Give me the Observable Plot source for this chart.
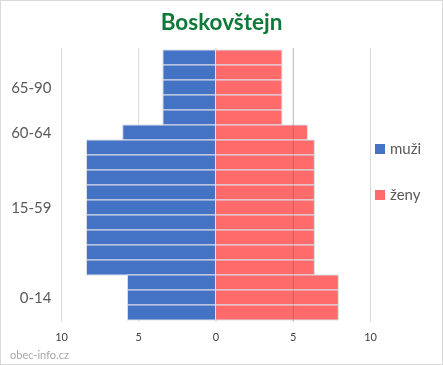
<!DOCTYPE html>
<html><head><meta charset="utf-8">
<script src="https://cdn.jsdelivr.net/npm/d3@7"></script>
<script src="https://cdn.jsdelivr.net/npm/@observablehq/plot@0.6"></script>
<style>
body{margin:0;background:#fff;}
#wrap{position:relative;width:443px;height:365px;background:#fff;font-family:Lato,"Open Sans",sans-serif;overflow:hidden}
#wrap svg{position:absolute;left:0;top:0}
#frame{position:absolute;left:0;top:0;width:443px;height:365px;border:1px solid #d9d9d9;box-sizing:border-box;pointer-events:none}
#title{position:absolute;left:0;width:443px;top:8px;text-align:center;font-weight:bold;font-size:22.5px;color:#0e7a3a;}
.leg{position:absolute;left:375px;font-size:15px;color:#595959;line-height:18px;white-space:nowrap}
.leg span{display:inline-block;width:10px;height:10px;margin-right:5px;vertical-align:-0px}
#cap{position:absolute;left:10px;top:348px;font-size:11px;color:#a6a6a6}
</style></head>
<body>
<div id="wrap">
  <div id="title">Boskovštejn</div>
  <div class="leg" style="top:139px"><span style="background:#4472C4"></span>muži</div>
  <div class="leg" style="top:185px"><span style="background:#FF6B6B"></span>ženy</div>
  <div id="cap">obec-info.cz</div>
  <div id="frame"></div>
</div>
<script>
// one entry per bar row, top to bottom
const rowGroup = ["65-90","65-90","65-90","65-90","65-90","60-64",
  "15-59","15-59","15-59","15-59","15-59","15-59","15-59","15-59","15-59",
  "0-14","0-14","0-14"];
const men   = [3.4,3.4,3.4,3.4,3.4, 6.0, 8.35,8.35,8.35,8.35,8.35,8.35,8.35,8.35,8.35, 5.7,5.7,5.7];
const women = [4.3,4.3,4.3,4.3,4.3, 5.95, 6.4,6.4,6.4,6.4,6.4,6.4,6.4,6.4,6.4, 7.95,7.95,7.95];
const groupLabels = ["65-90","60-64","15-59","0-14"];
const groupLabelRow = [2, 5, 10, 16];
const xTicks = [-10, -5, 0, 5, 10];

const rows = rowGroup.map((g, i) => ({i, g, men: men[i], women: women[i]}));
const labelOf = new Map(groupLabelRow.map((r, k) => [r, groupLabels[k]]));

const chart = Plot.plot({
  width: 443, height: 365,
  marginLeft: 61, marginRight: 73, marginTop: 48, marginBottom: 43,
  style: {fontFamily: "Lato, 'Open Sans', sans-serif", background: "transparent"},
  x: {domain: [-10, 10], ticks: xTicks},
  y: {type: "band", domain: d3.range(rows.length), padding: 0},
  marks: [
    Plot.ruleX(xTicks, {stroke: "#d9d9d9", strokeWidth: 1}),
    Plot.barX(rows, {y: "i", x1: 0, x2: d => -d.men, fill: "#4472C4", stroke: "#dde0ea", strokeWidth: 1}),
    Plot.barX(rows, {y: "i", x1: 0, x2: "women", fill: "#FF6B6B", stroke: "#dde0ea", strokeWidth: 1}),
    Plot.ruleX([5], {stroke: "#d9d9d9", strokeWidth: 1, mixBlendMode: "multiply"}),
    Plot.axisX({ticks: xTicks, tickSize: 0, tickPadding: 11, tickFormat: d => Math.abs(d), fontSize: 11, color: "#404040", label: null}),
    Plot.axisY({ticks: groupLabelRow, tickSize: 0, tickPadding: 10, tickFormat: d => labelOf.get(d), fontSize: 15, color: "#595959", label: null})
  ]
});
document.getElementById("wrap").insertBefore(chart, document.getElementById("title"));
</script>
</body></html>
